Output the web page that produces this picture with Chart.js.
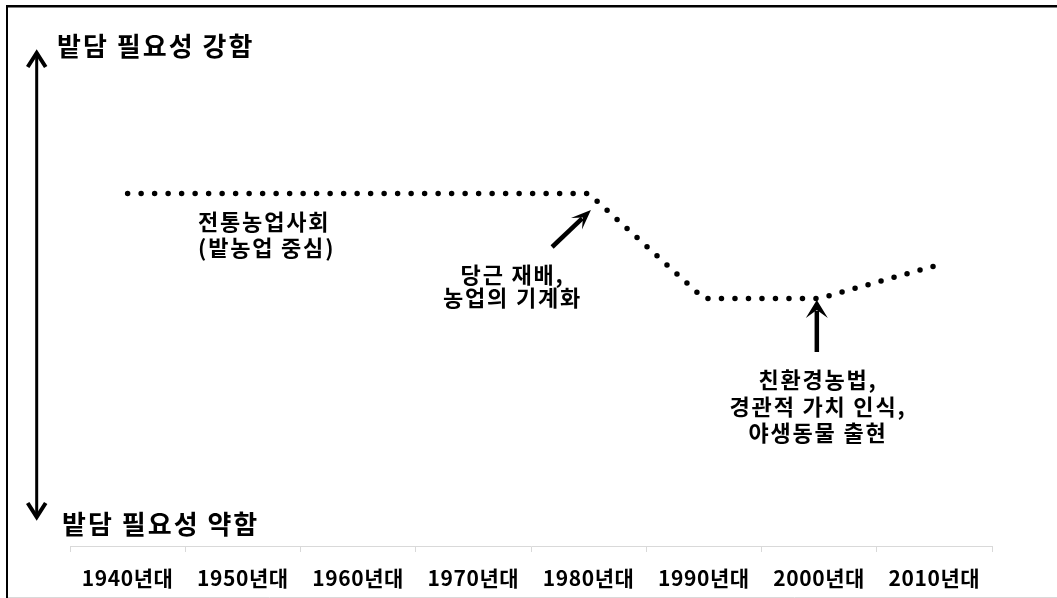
<!DOCTYPE html>
<html><head><meta charset="utf-8">
<script src="https://cdn.jsdelivr.net/npm/chart.js@4/dist/chart.umd.min.js"></script>
<style>html,body{margin:0;padding:0;background:#fff}#wrap{width:1057px;height:598px;position:relative}canvas{display:block}</style>
</head><body><div id="wrap"><canvas id="c" width="1057" height="598"></canvas></div>
<script>
// ---- data ----
const categories = ['1940년대','1950년대','1960년대','1970년대','1980년대','1990년대','2000년대','2010년대'];
const needLevel = [7.05, 7.05, 7.05, 7.05, 7.05, 4.95, 4.95, 5.6];
const axisTopLabel = '밭담 필요성 강함';
const axisBottomLabel = '밭담 필요성 약함';
const noteTraditional = ['전통농업사회', '(밭농업 중심)'];
const noteCarrot = ['당근 재배,', '농업의 기계화'];
const noteEco = ['친환경농법,', '경관적 가치 인식,', '야생동물 출현'];

const FONT = '"Noto Sans CJK KR", "Noto Sans", sans-serif';

// annotation anchors in data space (x = category index, y = value)
const annotations = {
  topLabel:    {x: -0.612, y: 10.0, size: 26, ls: 2, align: 'left', lh: 0, lines: [axisTopLabel]},
  bottomLabel: {x: -0.569, y: 0.44, size: 26, ls: 2, align: 'left', lh: 0, lines: [axisBottomLabel]},
  trad:        {x: 0.611, y: 6.48, size: 22, ls: 1.8, align: 'left', lh: 26, lines: noteTraditional},
  carrot:      {x: 3.34, y: 5.42, size: 22, ls: 1.8, align: 'center', lh: 23, lines: noteCarrot},
  eco:         {x: 5.99, y: 3.32, size: 22, ls: 1.8, align: 'center', lh: 26.5, lines: noteEco}
};
const arrows = {
  scaleArrow: {x1: -0.789, y1: 9.86, x2: -0.789, y2: 0.58},
  carrotArrow: {x1: 3.683, y1: 5.98, x2: 4.02, y2: 6.72},
  ecoArrow: {x1: 5.98, y1: 3.88, x2: 5.98, y2: 4.92}
};

function stealthArrow(ctx, x1, y1, x2, y2, lw, headLen, headW) {
  const dx = x2 - x1, dy = y2 - y1, L = Math.hypot(dx, dy);
  const ux = dx / L, uy = dy / L, px = -uy, py = ux;
  ctx.save();
  ctx.strokeStyle = '#000'; ctx.fillStyle = '#000'; ctx.lineWidth = lw; ctx.lineCap = 'butt';
  ctx.beginPath(); ctx.moveTo(x1, y1); ctx.lineTo(x2 - ux * headLen * 0.6, y2 - uy * headLen * 0.6); ctx.stroke();
  ctx.beginPath();
  ctx.moveTo(x2, y2);
  ctx.lineTo(x2 - ux * headLen + px * headW / 2, y2 - uy * headLen + py * headW / 2);
  ctx.lineTo(x2 - ux * headLen * 0.55, y2 - uy * headLen * 0.55);
  ctx.lineTo(x2 - ux * headLen - px * headW / 2, y2 - uy * headLen - py * headW / 2);
  ctx.closePath(); ctx.fill();
  ctx.restore();
}
function doubleChevronArrow(ctx, x, yTop, yBot, lw, hl, hw) {
  ctx.save();
  ctx.strokeStyle = '#000'; ctx.lineWidth = lw; ctx.lineCap = 'butt'; ctx.lineJoin = 'miter';
  ctx.beginPath(); ctx.moveTo(x, yTop + 2); ctx.lineTo(x, yBot - 2); ctx.stroke();
  ctx.lineWidth = lw + 1;
  ctx.beginPath(); ctx.moveTo(x - hw, yTop + hl); ctx.lineTo(x, yTop); ctx.lineTo(x + hw, yTop + hl); ctx.stroke();
  ctx.beginPath(); ctx.moveTo(x - hw, yBot - hl); ctx.lineTo(x, yBot); ctx.lineTo(x + hw, yBot - hl); ctx.stroke();
  ctx.restore();
}

const overlay = {
  id: 'overlay',
  beforeDraw(chart) {
    const ctx = chart.ctx;
    ctx.fillStyle = '#fff'; ctx.fillRect(0, 0, chart.width, chart.height);
    ctx.letterSpacing = '0.6px';
  },
  afterDraw(chart) {
    const ctx = chart.ctx, xs = chart.scales.x, ys = chart.scales.y;
    const X = v => xs.getPixelForValue(v), Y = v => ys.getPixelForValue(v);
    // frame
    ctx.save();
    ctx.strokeStyle = '#d9d9d9'; ctx.lineWidth = 1;
    ctx.beginPath(); ctx.moveTo(7, 597.5); ctx.lineTo(1057, 597.5); ctx.stroke();
    ctx.fillStyle = '#000';
    ctx.fillRect(6, 5, 1051, 2.5);
    ctx.fillRect(6, 5, 2, 593);
    ctx.restore();
    // texts
    ctx.save();
    ctx.fillStyle = '#000'; ctx.textBaseline = 'middle';
    Object.values(annotations).forEach(a => {
      ctx.font = 'bold ' + a.size + 'px ' + FONT;
      ctx.letterSpacing = a.ls + 'px';
      ctx.textAlign = a.align;
      a.lines.forEach((t, k) => ctx.fillText(t, X(a.x), Y(a.y) + k * a.lh));
    });
    ctx.restore();
    // arrows
    const s = arrows.scaleArrow;
    doubleChevronArrow(ctx, X(s.x1), Y(s.y1), Y(s.y2), 3, 14, 9);
    const c = arrows.carrotArrow;
    stealthArrow(ctx, X(c.x1), Y(c.y1), X(c.x2), Y(c.y2), 4.5, 20, 16);
    const e = arrows.ecoArrow;
    stealthArrow(ctx, X(e.x1), Y(e.y1), X(e.x2), Y(e.y2), 4.5, 18, 22);
  }
};

new Chart(document.getElementById('c'), {
  type: 'line',
  data: {
    labels: categories,
    datasets: [{
      data: needLevel,
      borderColor: '#000',
      borderWidth: 5.5,
      borderDash: [0, 13.5],
      borderCapStyle: 'round',
      pointRadius: 0,
      tension: 0,
      fill: false
    }]
  },
  options: {
    responsive: false,
    animation: false,
    devicePixelRatio: 1,
    layout: {padding: {left: 70, right: 65, top: 46, bottom: 0}},
    plugins: {legend: {display: false}, tooltip: {enabled: false}},
    scales: {
      x: {
        offset: true,
        afterFit(scale) { scale.height = 52; },
        grid: {offset: true, drawOnChartArea: false, drawTicks: true, tickLength: 6, color: '#d9d9d9', lineWidth: 1},
        border: {display: true, color: '#d9d9d9', width: 1},
        ticks: {color: '#000', padding: 13, font: {family: FONT, size: 21, weight: 'bold'}, maxRotation: 0, autoSkip: false}
      },
      y: {display: false, min: 0, max: 10}
    }
  },
  plugins: [overlay]
});
</script></body></html>
